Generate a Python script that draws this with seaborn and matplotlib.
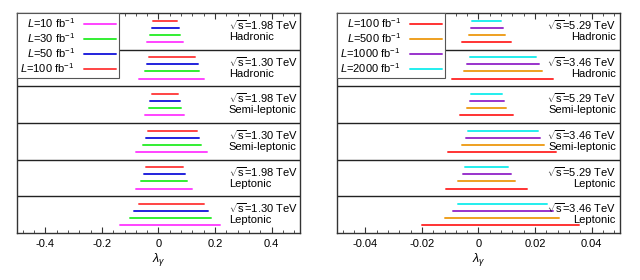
import matplotlib
matplotlib.use("Agg")
import matplotlib.pyplot as plt
from matplotlib.lines import Line2D
from matplotlib.ticker import MultipleLocator
import numpy as np
import pandas as pd
import seaborn as sns

# Rows, top to bottom
left_energy = ["1.98", "1.30", "1.98", "1.30", "1.98", "1.30"]
right_energy = ["5.29", "3.46", "5.29", "3.46", "5.29", "3.46"]
channels = ["Hadronic", "Hadronic", "Semi-leptonic", "Semi-leptonic", "Leptonic", "Leptonic"]

# Left panel: luminosities (fb^-1) and limits on lambda_gamma per row
left_lumi = [10, 30, 50, 100]
left_colors = ["#ff44ff", "#33ee33", "#2222dd", "#ff4444"]
left_lo = {
    100: [-0.020, -0.032, -0.024, -0.036, -0.043, -0.070],
    50: [-0.024, -0.039, -0.029, -0.044, -0.052, -0.087],
    30: [-0.030, -0.047, -0.034, -0.055, -0.060, -0.102],
    10: [-0.041, -0.070, -0.048, -0.080, -0.081, -0.137],
}
left_hi = {
    100: [0.067, 0.129, 0.070, 0.136, 0.086, 0.162],
    50: [0.073, 0.138, 0.075, 0.143, 0.093, 0.176],
    30: [0.077, 0.144, 0.080, 0.150, 0.101, 0.187],
    10: [0.085, 0.162, 0.091, 0.170, 0.117, 0.217],
}

# Right panel
right_lumi = [100, 500, 1000, 2000]
right_colors = ["#ff3333", "#eea020", "#9933cc", "#22eeee"]
right_lo = {
    2000: [-0.0022, -0.0030, -0.0025, -0.0036, -0.0046, -0.0071],
    1000: [-0.0026, -0.0039, -0.0031, -0.0045, -0.0055, -0.0091],
    500: [-0.0033, -0.0050, -0.0039, -0.0059, -0.0071, -0.0117],
    100: [-0.0057, -0.0092, -0.0065, -0.0108, -0.0114, -0.0198],
}
right_hi = {
    2000: [0.0081, 0.0204, 0.0084, 0.0210, 0.0105, 0.0244],
    1000: [0.0086, 0.0213, 0.0089, 0.0219, 0.0115, 0.0262],
    500: [0.0093, 0.0224, 0.0098, 0.0233, 0.0129, 0.0283],
    100: [0.0115, 0.0262, 0.0123, 0.0275, 0.0170, 0.0357],
}

sns.set_theme(style="white")
plt.rcParams["font.family"] = ["Liberation Sans", "DejaVu Sans"]
plt.rcParams["mathtext.fontset"] = "custom"
plt.rcParams["mathtext.rm"] = "Liberation Sans"
plt.rcParams["mathtext.it"] = "Liberation Sans:italic"
plt.rcParams["text.color"] = "black"
plt.rcParams["axes.labelcolor"] = "black"
plt.rcParams["xtick.color"] = "black"


def makeFrame(lumis, lo, hi):
    """Long table: two points per segment, top line = largest luminosity."""
    rows = []
    order = sorted(lumis, reverse=True)
    for r in range(len(channels)):
        for k, L in enumerate(order):
            y = r + 0.21 + 0.193 * k
            seg = f"{r}_{L}"
            rows.append((lo[L][r], y, L, seg))
            rows.append((hi[L][r], y, L, seg))
    return pd.DataFrame(rows, columns=["lam", "ypos", "lumi", "seg"])


def drawPanel(ax, lumis, colors, lo, hi, energies, xmax, major, minor, left_text):
    df = makeFrame(lumis, lo, hi)
    pal = dict(zip(lumis, colors))
    sns.lineplot(data=df, x="lam", y="ypos", hue="lumi", units="seg", estimator=None,
                 sort=False, palette=pal, linewidth=1.4, legend=False, ax=ax)
    ax.set_xlim(-xmax, xmax)
    ax.set_ylim(len(channels), 0)
    for r in range(1, len(channels)):
        ax.axhline(r, color="#222222", lw=1.0, zorder=1)
    for r, (e, ch) in enumerate(zip(energies, channels)):
        if left_text:
            xt, ha = 0.749, "left"
        else:
            xt, ha = 0.986, "right"
        ax.text(xt, r + 0.33, rf"$\sqrt{{\mathrm{{s}}}}$={e} TeV", transform=ax.get_yaxis_transform(),
                ha=ha, va="center", fontsize=8)
        ax.text(xt, r + 0.66, ch, transform=ax.get_yaxis_transform(), ha=ha, va="center", fontsize=8)
    ax.xaxis.set_major_locator(MultipleLocator(major))
    ax.xaxis.set_minor_locator(MultipleLocator(minor))
    ax.tick_params(axis="x", which="both", direction="in", top=True, bottom=True,
                   labelsize=8, color="#333333", pad=4)
    ax.tick_params(axis="x", which="major", length=4, width=0.8)
    ax.tick_params(axis="x", which="minor", length=2, width=0.6)
    ax.set_yticks([])
    ax.set_ylabel("")
    ax.set_xlabel(r"$\lambda_\gamma$", fontsize=9, labelpad=2)
    ax.set_xticks(ax.get_xticks())
    ax.set_xticklabels(["{:g}".format(round(t, 4)) if abs(t) > 1e-9 else "0" for t in ax.get_xticks()])
    ax.set_xlim(-xmax, xmax)
    for s in ax.spines.values():
        s.set_color("#333333")
        s.set_linewidth(1.0)
    handles = [Line2D([], [], color=c, lw=1.4) for c in colors]
    labels = [rf"$\it{{L}}$={L} fb$^{{-1}}$" for L in lumis]
    leg = ax.legend(handles, labels, loc="upper left", markerfirst=False, fontsize=8,
                    frameon=True, fancybox=False, framealpha=1, edgecolor="#555555",
                    borderaxespad=0, handlelength=2.9, handletextpad=0.8,
                    labelspacing=0.1, borderpad=0.3)
    leg.get_frame().set_linewidth(0.8)
    leg.set_zorder(5)


fig = plt.figure(figsize=(6.4, 2.8), dpi=100)
ax1 = fig.add_axes([0.0266, 0.168, 0.442, 0.786])
ax2 = fig.add_axes([0.5266, 0.168, 0.442, 0.786])

drawPanel(ax1, left_lumi, left_colors, left_lo, left_hi, left_energy, 0.5, 0.2, 0.04, True)
drawPanel(ax2, right_lumi, right_colors, right_lo, right_hi, right_energy, 0.05, 0.02, 0.004, False)

fig.savefig("out.png", dpi=100)
